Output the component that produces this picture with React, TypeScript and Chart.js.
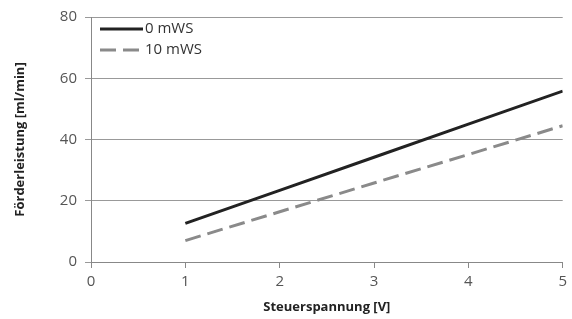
import React, { useEffect, useRef } from "react";
import { Chart, registerables } from "chart.js";

Chart.register(...registerables);

const xValues = [1, 2, 3, 4, 5];
const series0 = [12.6, 23.4, 34.2, 45.0, 55.8];
const series10 = [7.0, 16.4, 25.8, 35.1, 44.5];
const seriesLabels = ["0 mWS", "10 mWS"];
const xTitle = "Steuerspannung [V]";
const yTitle = "Förderleistung [ml/min]";

const FONT = "'Open Sans', Lato, sans-serif";

const legendPlugin = {
  id: "insideLegend",
  afterDraw(chart: any) {
    const { ctx, chartArea } = chart;
    ctx.save();
    chart.data.datasets.forEach((ds: any, i: number) => {
      const y = chartArea.top + 12 + i * 21;
      const x0 = chartArea.left + 9;
      const x1 = chartArea.left + 52;
      ctx.beginPath();
      ctx.strokeStyle = ds.borderColor;
      ctx.lineWidth = ds.borderWidth;
      ctx.setLineDash(ds.borderDash || []);
      ctx.moveTo(x0, y);
      ctx.lineTo(x1, y);
      ctx.stroke();
      ctx.setLineDash([]);
      ctx.fillStyle = "#333";
      ctx.font = `15px ${FONT}`;
      ctx.textBaseline = "middle";
      ctx.textAlign = "left";
      ctx.fillText(ds.label, x1 + 2, y);
    });
    ctx.restore();
  },
};

export default function App() {
  const ref = useRef<HTMLCanvasElement>(null);
  useEffect(() => {
    if (!ref.current) return;
    const chart = new Chart(ref.current, {
      type: "line",
      data: {
        datasets: [
          {
            label: seriesLabels[0],
            data: xValues.map((x, i) => ({ x, y: series0[i] })),
            borderColor: "#222222",
            borderWidth: 3,
            pointRadius: 0,
            tension: 0,
          },
          {
            label: seriesLabels[1],
            data: xValues.map((x, i) => ({ x, y: series10[i] })),
            borderColor: "#8a8a8a",
            borderWidth: 3,
            borderDash: [16, 7],
            pointRadius: 0,
            tension: 0,
          },
        ],
      },
      options: {
        animation: false,
        responsive: false,
        maintainAspectRatio: false,
        layout: { padding: { top: 17, right: 7, left: 0, bottom: 0 } },
        plugins: { legend: { display: false }, tooltip: { enabled: false } },
        scales: {
          x: {
            type: "linear",
            min: 0,
            max: 5,
            ticks: { stepSize: 1, color: "#555", font: { family: FONT, size: 15 }, padding: 5 },
            grid: { drawOnChartArea: false, drawTicks: true, tickLength: 6, color: "#888" },
            border: { color: "#888", width: 1 },
            title: {
              display: true,
              text: xTitle,
              color: "#222",
              font: { family: FONT, size: 13, weight: "bold" },
              padding: { top: 4, bottom: 4 },
            },
            afterFit: (s: any) => {
              s.height = 57;
            },
          },
          y: {
            min: 0,
            max: 80,
            ticks: { stepSize: 20, color: "#555", font: { family: FONT, size: 15 }, padding: 8 },
            grid: { color: "#999", tickLength: 6, drawTicks: true },
            border: { color: "#888", width: 1 },
            title: {
              display: true,
              text: yTitle,
              color: "#222",
              font: { family: FONT, size: 13, weight: "bold" },
              padding: { top: 12, bottom: 12 },
            },
            afterFit: (s: any) => {
              s.width = 91;
            },
          },
        },
      },
      plugins: [legendPlugin],
    });
    return () => chart.destroy();
  }, []);
  return (
    <div style={{ position: "fixed", left: 0, top: 0, width: 572, height: 319, background: "#fff" }}>
      <canvas ref={ref} width={572} height={319} />
    </div>
  );
}
